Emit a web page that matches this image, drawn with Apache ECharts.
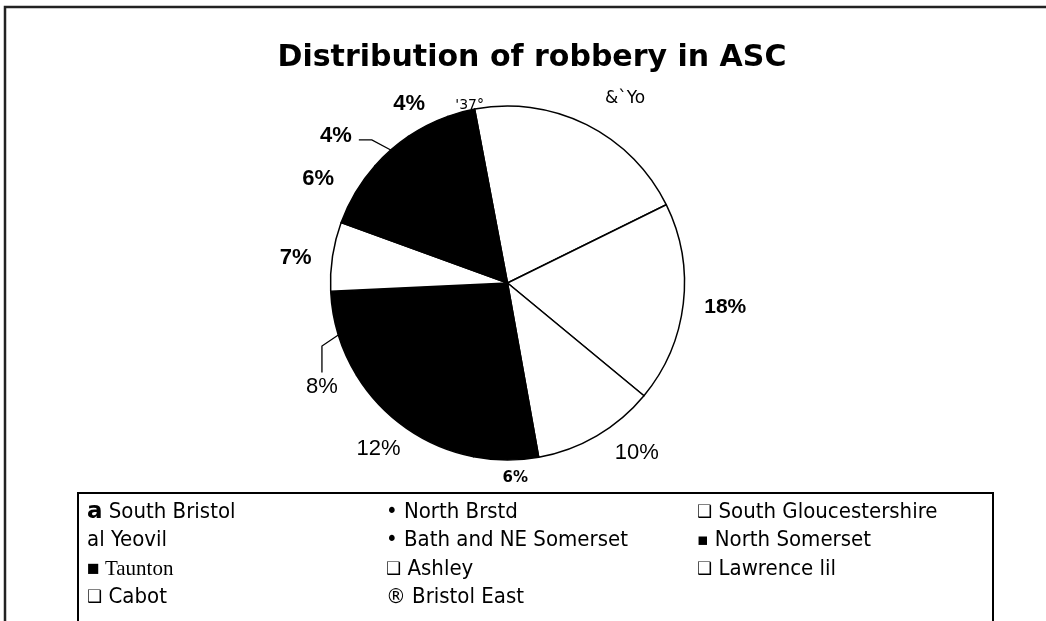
<!DOCTYPE html>
<html><head><meta charset="utf-8">
<script src="https://cdn.jsdelivr.net/npm/echarts@6/dist/echarts.min.js"></script>
<style>html,body{margin:0;padding:0;background:#fff}#c{width:1046px;height:621px}</style>
</head><body><div id="c"></div>
<script>
// ---- data ----
const categories = ['South Bristol','North Brstd','South Gloucestershire','Yeovil','Bath and NE Somerset','North Somerset','Taunton','Ashley','Lawrence lil','Cabot','Bristol East'];
const values = [20.7, 18.3, 11.2, 5.9, 13.2, 8.0, 6.3, 6.0, 4.0, 4.0, 2.5];
const sliceLabels = ['&`Yo', '18%', '10%', '6%', '12%', '8%', '7%', '6%', '4%', '4%', "'37°"];
const sliceFills = ['#ffffff','#ffffff','#ffffff','#000000','#000000','#000000','#ffffff','#000000','#000000','#000000','#000000'];
const legendGlyphs = ['a','•','❑','al','•','▪','■','❑','❑','❑','®'];
const titleText = 'Distribution of robbery in ASC';

// ---- styles (not data) ----
const labelStyles = [
  {f:'DejaVu Sans', s:17, w:'normal'},
  {f:'Liberation Sans', s:21, w:'bold'},
  {f:'Liberation Sans', s:22, w:'normal'},
  {f:'DejaVu Sans', s:15, w:'bold'},
  {f:'Liberation Sans', s:22, w:'normal'},
  {f:'Liberation Sans', s:22, w:'normal'},
  {f:'Liberation Sans', s:22, w:'bold'},
  {f:'Liberation Sans', s:22, w:'bold'},
  {f:'Liberation Sans', s:22, w:'bold'},
  {f:'Liberation Sans', s:22, w:'bold'},
  {f:'DejaVu Sans', s:14, w:'normal'}
];
// fine nudges of label placement relative to ECharts' outside layout
const labelNudges = [[0,-15],[-4,2],[-1,7],[35,6],[14,11],[24,48],[4,3],[2,-7],[-18,-5],[16,-10],[39,5]];
const leaderShown = [false,false,false,false,false,true,false,false,true,false,false];

const chart = echarts.init(document.getElementById('c'), null, {renderer:'canvas'});

const pieData = categories.map((name, i) => ({
  name: name,
  value: values[i],
  itemStyle: { color: sliceFills[i] },
  label: {
    formatter: sliceLabels[i],
    fontFamily: labelStyles[i].f,
    fontSize: labelStyles[i].s,
    fontWeight: labelStyles[i].w,
    color: '#000'
  },
  labelLine: { show: leaderShown[i] }
}));

const glyphRich = {
  gb: {fontFamily:'DejaVu Sans', fontWeight:'bold', fontSize:23, color:'#000'},
  g:  {fontFamily:'DejaVu Sans Condensed', fontSize:22, color:'#000'},
  sq: {fontFamily:'DejaVu Sans', fontSize:17, color:'#000'},
  ser:{fontFamily:'Liberation Serif', fontSize:21, color:'#000'}
};
function glyphKey(i){
  if (i === 0) return 'gb';
  if (i === 6) return 'ser';
  if (legendGlyphs[i] === '❑' || legendGlyphs[i] === '▪') return 'sq';
  return 'g';
}
const colLefts = [82, 381, 692];
const legends = [0,1,2].map(c => ({
  orient: 'vertical',
  left: colLefts[c],
  top: 498,
  padding: 0,
  itemGap: 0,
  icon: 'none',
  itemWidth: 0,
  itemHeight: 0,
  selectedMode: false,
  data: categories.filter((_, i) => i % 3 === c),
  formatter: function(name){
    const i = categories.indexOf(name);
    const k = glyphKey(i);
    if (i === 6) return '{ser|' + legendGlyphs[i] + ' ' + name + '}';
    return '{' + k + '|' + legendGlyphs[i] + '} ' + name;
  },
  textStyle: {
    fontFamily: 'DejaVu Sans Condensed',
    fontSize: 22,
    color: '#000',
    lineHeight: 28.5,
    padding: 0,
    rich: glyphRich
  }
}));

chart.setOption({
  animation: false,
  backgroundColor: '#fff',
  title: {
    text: titleText,
    left: 527,
    textAlign: 'center',
    top: 38,
    textStyle: {fontFamily:'DejaVu Sans', fontWeight:'bold', fontSize:30, color:'#000'}
  },
  legend: legends,
  graphic: [
    {type:'rect', shape:{x:5, y:7, width:1100, height:700}, style:{fill:null, stroke:'#222', lineWidth:2.5}, silent:true},
    {type:'rect', shape:{x:78, y:493, width:915, height:200}, style:{fill:null, stroke:'#000', lineWidth:2}, silent:true}
  ],
  series: [{
    type: 'pie',
    center: [507.5, 283],
    radius: 177,
    startAngle: 100.7,
    clockwise: true,
    avoidLabelOverlap: false,
    emphasis: {disabled: true},
    itemStyle: {borderColor:'#000', borderWidth:1.5},
    label: {show: true, position: 'outside'},
    labelLine: {length: 12, length2: 8, lineStyle: {color:'#000', width:1.3}},
    labelLayout: function(p){
      const i = p.dataIndex;
      const n = labelNudges[i];
      const out = {dx: n[0], dy: n[1]};
      if (leaderShown[i] && p.labelLinePoints && p.labelRect) {
        const r = p.labelRect;
        const cx = r.x + r.width / 2 + n[0];
        const top = r.y + n[1];
        const cy = top + r.height / 2;
        const right = r.x + r.width + n[0];
        const p0 = p.labelLinePoints[0];
        if (i === 5) {
          out.labelLinePoints = [p0, [cx, p0[1] + 11], [cx, top - 3]];
        } else {
          out.labelLinePoints = [p0, [right + 20, cy + 4], [right + 7, cy + 4]];
        }
      }
      return out;
    },
    data: pieData
  }]
});
</script></body></html>
